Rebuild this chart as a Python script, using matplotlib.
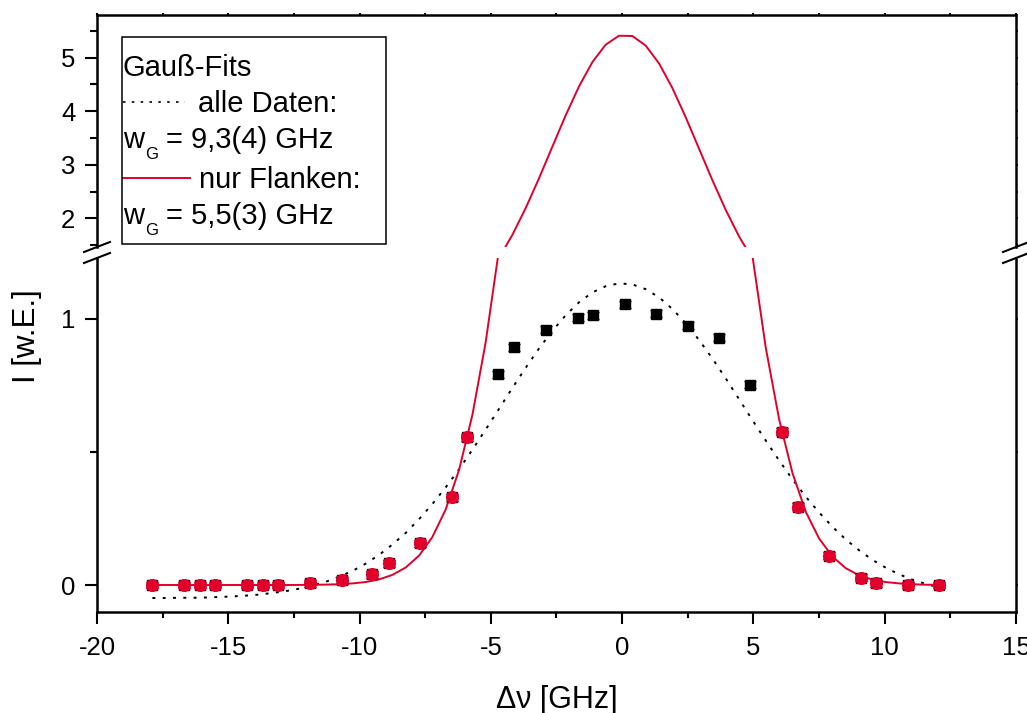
import matplotlib
matplotlib.use("Agg")
import matplotlib.pyplot as plt
from matplotlib.lines import Line2D
from matplotlib.ticker import MultipleLocator, FixedLocator

plt.rcParams['font.family'] = ['Liberation Sans', 'DejaVu Sans']

# ---------------- data ----------------
# measured points in the centre (black squares only)
x_center = [-4.71, -4.11, -2.91, -1.69, -1.12, 0.11, 1.28, 2.49, 3.70, 4.88]
y_center = [0.793, 0.894, 0.959, 1.005, 1.014, 1.056, 1.019, 0.975, 0.930, 0.753]
err_center = [0.013] * len(x_center)

# measured points on the flanks (red, used for the flank fit)
x_flank = [-17.89, -16.67, -16.08, -15.50, -14.27, -13.69, -13.09, -11.89, -10.68,
           -9.51, -8.89, -7.70, -6.49, -5.92, 6.08, 6.68, 7.89, 9.09, 9.68, 10.88, 12.06]
y_flank = [0.0, 0.0, 0.0, 0.0, 0.0, 0.0, 0.0, 0.006, 0.018,
           0.041, 0.081, 0.157, 0.330, 0.555, 0.576, 0.294, 0.110, 0.027, 0.006, 0.0, 0.0]
err_flank = [0.013] * len(x_flank)

# fit curves
x_fit = [-17.89, -17.38, -16.87, -16.37, -15.86, -15.35, -14.84, -14.34, -13.83, -13.32,
         -12.81, -12.30, -11.80, -11.29, -10.78, -10.27, -9.77, -9.26, -8.75, -8.24,
         -7.73, -7.23, -6.72, -6.21, -5.70, -5.20, -4.69, -4.18, -3.67, -3.16,
         -2.66, -2.15, -1.64, -1.13, -0.63, -0.12, 0.39, 0.90, 1.41, 1.91,
         2.42, 2.93, 3.44, 3.95, 4.45, 4.96, 5.47, 5.98, 6.49, 7.00,
         7.50, 8.01, 8.52, 9.03, 9.54, 10.04, 10.55, 11.06, 11.57, 12.08]
y_fit_all = [-0.049, -0.049, -0.048, -0.048, -0.047, -0.045, -0.043, -0.040, -0.036, -0.030,
             -0.023, -0.014, -0.003, 0.012, 0.031, 0.053, 0.080, 0.113, 0.152, 0.196,
             0.248, 0.304, 0.367, 0.435, 0.509, 0.584, 0.662, 0.741, 0.817, 0.890,
             0.955, 1.014, 1.063, 1.100, 1.123, 1.134, 1.130, 1.112, 1.081, 1.038,
             0.984, 0.921, 0.851, 0.776, 0.699, 0.620, 0.543, 0.468, 0.397, 0.331,
             0.273, 0.219, 0.171, 0.130, 0.094, 0.065, 0.040, 0.020, 0.004, -0.010]
y_fit_flank = [0.0, 0.0, 0.0, 0.0, 0.0, 0.0, 0.0, 0.0, 0.0, 0.0,
               0.0, 0.0003, 0.0007, 0.0015, 0.003, 0.006, 0.011, 0.021, 0.038, 0.066,
               0.111, 0.180, 0.284, 0.433, 0.641, 0.911, 1.261, 1.691, 2.194, 2.754,
               3.335, 3.923, 4.466, 4.920, 5.241, 5.410, 5.405, 5.225, 4.889, 4.436,
               3.889, 3.299, 2.709, 2.152, 1.664, 1.239, 0.892, 0.622, 0.420, 0.274,
               0.175, 0.107, 0.063, 0.036, 0.020, 0.011, 0.006, 0.003, 0.001, 0.001]

lower_yticks = [0, 1]
upper_yticks = [2, 3, 4, 5]
x_ticks = [-20, -15, -10, -5, 0, 5, 10, 15]

RED = '#E2002B'
W, H = 1027, 713


def fx(x):
    return x / W


def fy(y):
    return 1 - y / H


fig = plt.figure(figsize=(W / 100, H / 100), dpi=100)

L, R = 97, 1016
ax_lo = fig.add_axes([fx(L), fy(612), (R - L) / W, (612 - 258) / H])
ax_hi = fig.add_axes([fx(L), fy(247), (R - L) / W, (247 - 15) / H])

for ax in (ax_lo, ax_hi):
    ax.plot(x_fit, y_fit_all, color='black', lw=1.4, linestyle=(0, (1.5, 3.8)), zorder=2)
    ax.plot(x_fit, y_fit_flank, color=RED, lw=1.4, zorder=2)
    ax.errorbar(x_center + x_flank, y_center + y_flank, yerr=err_center + err_flank,
                fmt='s', color='black', ms=7.5, elinewidth=1.0, capsize=4.5,
                capthick=1.0, zorder=3)
    ax.errorbar(x_flank, y_flank, yerr=err_flank, fmt='o', color=RED, mec=RED,
                ms=8.4, elinewidth=1.0, capsize=4.5, capthick=1.0, ecolor=RED, zorder=4)
    ax.set_xlim(-20, 15)
    for s in ax.spines.values():
        s.set_linewidth(1.8)
    ax.tick_params(which='both', labelsize=18.5, width=1.5)

ax_lo.set_ylim(-0.1015, 1.2293)
ax_hi.set_ylim(1.464, 5.797)

ax_lo.spines['top'].set_visible(False)
ax_hi.spines['bottom'].set_visible(False)

# x axis ticks
ax_lo.xaxis.set_major_locator(FixedLocator(x_ticks))
ax_lo.xaxis.set_minor_locator(MultipleLocator(2.5))
ax_lo.set_xticklabels([str(t) for t in x_ticks])
ax_lo.tick_params(axis='x', which='major', direction='out', length=8.5, pad=8.5)
ax_lo.tick_params(axis='x', which='minor', direction='out', length=4.5)
ax_lo.tick_params(axis='x', which='both', top=False)

ax_hi.xaxis.set_major_locator(FixedLocator(x_ticks))
ax_hi.xaxis.set_minor_locator(MultipleLocator(2.5))
ax_hi.tick_params(axis='x', which='both', bottom=False, labelbottom=False,
                  top=True, direction='out', length=1.5)

# y axis ticks
ax_lo.yaxis.set_major_locator(FixedLocator(lower_yticks))
ax_lo.yaxis.set_minor_locator(FixedLocator([0.5]))
ax_lo.set_yticklabels([str(t) for t in lower_yticks])
ax_hi.yaxis.set_major_locator(FixedLocator(upper_yticks))
ax_hi.yaxis.set_minor_locator(MultipleLocator(0.5))
ax_hi.set_yticklabels([str(t) for t in upper_yticks])
for ax in (ax_lo, ax_hi):
    ax.tick_params(axis='y', which='major', direction='out', length=8.5, pad=7)
    ax.tick_params(axis='y', which='minor', direction='out', length=5)
    ax.tick_params(axis='y', which='both', right=True)
    for t in ax.yaxis.get_major_ticks() + ax.yaxis.get_minor_ticks():
        t.tick2line.set_markersize(1.5)

# axis labels
fig.text(fx(557), fy(708), 'Δν [GHz]', ha='center', va='baseline', fontsize=22)
fig.text(fx(27), fy(336), 'I [w.E.]', ha='center', va='center', rotation=90, fontsize=22.5)

# axis break marks
for xs in (L, R):
    for yc in (247, 258):
        fig.add_artist(Line2D([fx(xs - 13), fx(xs + 13)], [fy(yc + 5), fy(yc - 5)],
                              color='black', lw=1.5, transform=fig.transFigure))

# legend box
fig.add_artist(plt.Rectangle((fx(122), fy(244)), (386 - 122) / W, (244 - 37) / H,
                             fill=False, lw=1.1, edgecolor='black',
                             transform=fig.transFigure, zorder=5))
fs = 21
fig.text(fx(123), fy(76), 'Gauß-Fits', fontsize=fs, va='baseline')
fig.add_artist(Line2D([fx(123), fx(185)], [fy(102), fy(102)], color='black', lw=1.2,
                      linestyle=(0, (1.5, 3.8)), transform=fig.transFigure))
fig.text(fx(198), fy(112), 'alle Daten:', fontsize=fs, va='baseline')
fig.text(fx(123), fy(148), 'w', fontsize=fs, va='baseline')
fig.text(fx(145), fy(159), 'G', fontsize=12, va='baseline')
fig.text(fx(166), fy(148), '= 9,3(4) GHz', fontsize=fs, va='baseline')
fig.add_artist(Line2D([fx(123), fx(190)], [fy(178), fy(178)], color=RED, lw=1.4,
                      transform=fig.transFigure))
fig.text(fx(199), fy(188), 'nur Flanken:', fontsize=fs, va='baseline')
fig.text(fx(123), fy(224), 'w', fontsize=fs, va='baseline')
fig.text(fx(145), fy(235), 'G', fontsize=12, va='baseline')
fig.text(fx(166), fy(224), '= 5,5(3) GHz', fontsize=fs, va='baseline')

fig.savefig('out.png', dpi=100)
